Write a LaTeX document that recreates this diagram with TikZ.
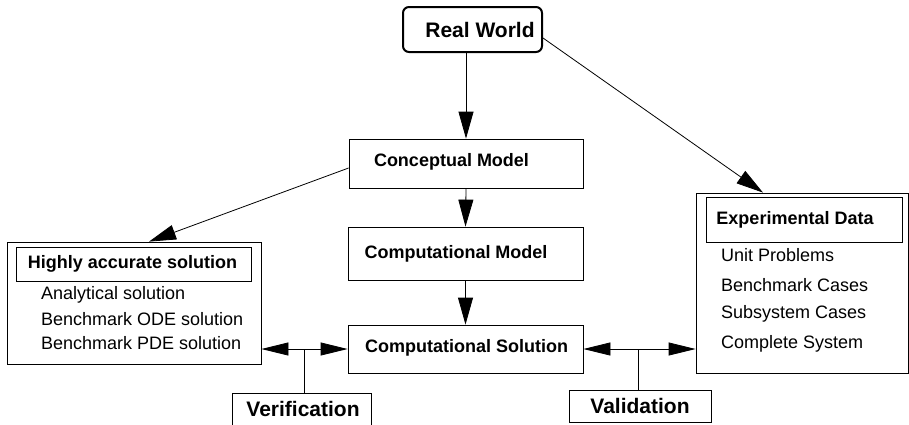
\documentclass[tikz,border=0pt]{standalone}
\usepackage{fontspec}
\setmainfont{Liberation Sans}
\usetikzlibrary{arrows.meta,calc}

\tikzset{
  box/.style={draw, rectangle, line width=0.8pt, inner sep=0pt},
  bigtxt/.style={font=\bfseries\fontsize{21}{25}\selectfont, inner sep=0pt},
  headtxt/.style={font=\bfseries\fontsize{18}{21}\selectfont, inner sep=0pt},
  itemtxt/.style={font=\fontsize{18}{21}\selectfont, anchor=west, inner sep=0pt},
  arr/.style={-{Triangle[length=27pt,width=15pt]}, line width=0.8pt},
  biarr/.style={{Triangle[length=27pt,width=13pt]}-{Triangle[length=27pt,width=13pt]}, line width=0.8pt}
}

\begin{document}
\begin{tikzpicture}[x=1pt,y=1pt,yscale=-1,xscale=1]
\useasboundingbox (0,0) rectangle (909,424);

%Shape: Real World
\node[box, rounded corners=6pt, line width=2pt, minimum width=139, minimum height=45] (real) at (472.5,29.5) {};
\node[bigtxt] (realtxt) at (480,30) {Real World};

%Shape: middle column
\node[box, minimum width=234, minimum height=49] (concept) at (466,163.5) {};
\node[headtxt] (concepttxt) at (451.5,162) {Conceptual Model};
\node[box, minimum width=235, minimum height=53] (compmodel) at (465.5,253.5) {};
\node[headtxt] (compmodeltxt) at (456,254) {Computational Model};
\node[box, minimum width=235, minimum height=48] (compsol) at (465.5,349) {};
\node[headtxt] (compsoltxt) at (466.5,348) {Computational Solution};

%Shape: left box
\node[box, minimum width=254, minimum height=122] (highbox) at (134,303) {};
\node[box, minimum width=235, minimum height=34] (highhead) at (133.5,264) {};
\node[headtxt] (hightxt) at (132.5,264) {Highly accurate solution};
\node[itemtxt] (anal) at (41,295) {Analytical solution};
\node[itemtxt] (ode) at (41,319) {Benchmark ODE solution};
\node[itemtxt] (pde) at (41,343) {Benchmark PDE solution};

%Shape: right box
\node[box, minimum width=212, minimum height=180] (expbox) at (802,283) {};
\node[box, minimum width=196, minimum height=45] (exphead) at (804,219.5) {};
\node[headtxt] (exptxt) at (795,220) {Experimental Data};
\node[itemtxt] (unit) at (721,255) {Unit Problems};
\node[itemtxt] (bench) at (721,285) {Benchmark Cases};
\node[itemtxt] (subsys) at (721,314) {Subsystem Cases};
\node[itemtxt] (complete) at (721,344) {Complete System};

%Shape: bottom labels
\node[box, minimum width=139, minimum height=40] (verifbox) at (301.5,413) {};
\node[bigtxt] (veriftxt) at (303,409) {Verification};
\node[box, minimum width=142, minimum height=32] (validbox) at (640,406) {};
\node[bigtxt] (validtxt) at (640,406) {Validation};

%Arrows
\draw[arr] (real.south -| concept.north) -- (concept.north);
\draw[arr] (concept.south) -- (compmodel.north);
\draw[arr] (compmodel.south) -- (compsol.north);
\draw[arr] ($(concept.west)+(0,4.5)$) -- ($(highbox.north)+(15,0)$);
\draw[arr] ($(real.east)+(0,8.5)$) -- ($(expbox.north)+(-39,0)$);
\draw[biarr] (highbox.east |- compsol.west) -- (compsol.west);
\draw[biarr] (compsol.east) -- (expbox.west |- compsol.east);
\draw[line width=0.8pt] ($(verifbox.north)+(2.5,0)$) -- ($(verifbox.north |- compsol.west)+(2.5,0)$);
\draw[line width=0.8pt] ($(validbox.north)+(-2,0)$) -- ($(validbox.north |- compsol.east)+(-2,0)$);

\end{tikzpicture}
\end{document}
